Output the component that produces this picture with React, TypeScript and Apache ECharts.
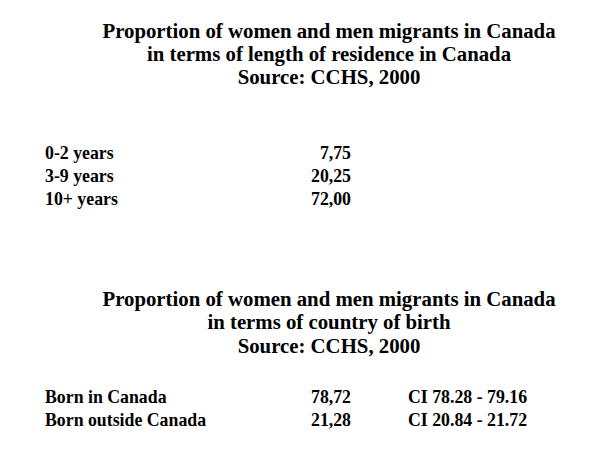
import React, { useEffect, useRef } from "react";
import * as echarts from "echarts";

const title1Lines = [
  "Proportion of women and men migrants in Canada",
  "in terms of length of residence in Canada",
  "Source: CCHS, 2000",
];
const residenceCategories = ["0-2 years", "3-9 years", "10+ years"];
const residenceValues = [7.75, 20.25, 72.0];

const title2Lines = [
  "Proportion of women and men migrants in Canada",
  "in terms of country of birth",
  "Source: CCHS, 2000",
];
const birthCategories = ["Born in Canada", "Born outside Canada"];
const birthValues = [78.72, 21.28];
const birthCILow = [78.28, 20.84];
const birthCIHigh = [79.16, 21.72];

const FONT = '"Liberation Serif", "Times New Roman", serif';

const fmtComma = (v: number) => v.toFixed(2).replace(".", ",");
const fmtDot = (v: number) => v.toFixed(2);

export default function App() {
  const ref = useRef<HTMLDivElement>(null);
  useEffect(() => {
    if (!ref.current) return;
    const chart = echarts.init(ref.current, undefined, { renderer: "svg" });
    const els: any[] = [];
    const titleStyle = (text: string) => ({
      text,
      fontFamily: FONT,
      fontWeight: "bold",
      fontSize: 20.8,
      fill: "#000",
      align: "center",
      verticalAlign: "middle",
    });
    const cellStyle = (text: string, align: string) => ({
      text,
      fontFamily: FONT,
      fontWeight: "bold",
      fontSize: 17.8,
      fill: "#000",
      align,
      verticalAlign: "middle",
    });
    title1Lines.forEach((t, i) => {
      els.push({ type: "text", x: 329, y: 30 + i * 23.3, style: titleStyle(t) });
    });
    residenceCategories.forEach((c, i) => {
      const y = 153 + i * 23;
      els.push({ type: "text", x: 45, y, style: cellStyle(c, "left") });
      els.push({ type: "text", x: 351, y, style: cellStyle(fmtComma(residenceValues[i]), "right") });
    });
    title2Lines.forEach((t, i) => {
      els.push({ type: "text", x: 329, y: 298.5 + i * 23.3, style: titleStyle(t) });
    });
    birthCategories.forEach((c, i) => {
      const y = 397 + i * 23;
      els.push({ type: "text", x: 45, y, style: cellStyle(c, "left") });
      els.push({ type: "text", x: 351, y, style: cellStyle(fmtComma(birthValues[i]), "right") });
      els.push({
        type: "text",
        x: 408,
        y,
        style: cellStyle(`CI ${fmtDot(birthCILow[i])} - ${fmtDot(birthCIHigh[i])}`, "left"),
      });
    });
    chart.setOption({
      animation: false,
      backgroundColor: "#fff",
      graphic: { elements: els },
    });
    return () => chart.dispose();
  }, []);
  return (
    <div
      ref={ref}
      style={{ position: "fixed", left: 0, top: 0, width: 600, height: 451, background: "#fff" }}
    />
  );
}
